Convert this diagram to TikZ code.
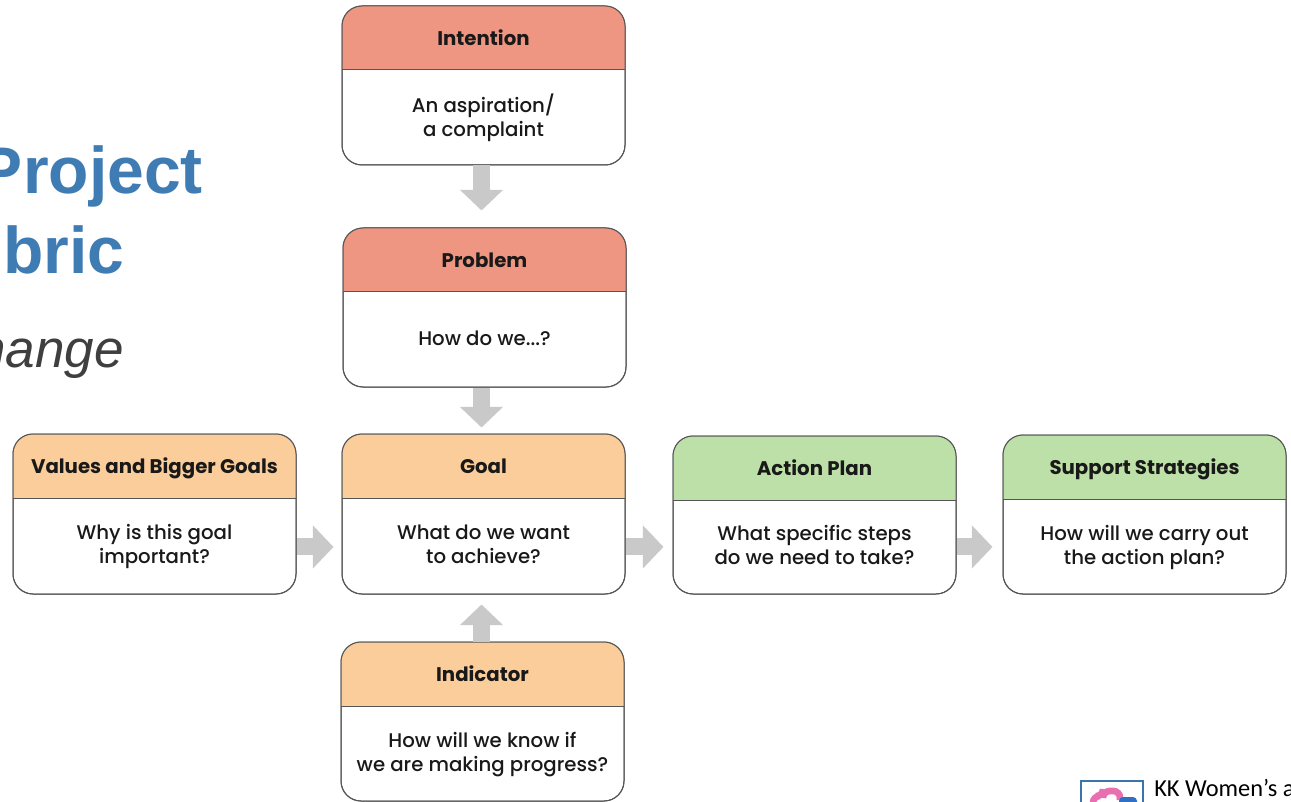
\documentclass[tikz,border=0pt]{standalone}
\usepackage{fontspec}
\setmainfont{Poppins}
\newfontfamily\bodyfont{Poppins Medium}
\newfontfamily\titlefont{Liberation Sans}
\newfontfamily\logofont{Carlito}
\usetikzlibrary{arrows.meta}
\definecolor{redhead}{HTML}{EE9682}
\definecolor{orangehead}{HTML}{FACD9A}
\definecolor{greenhead}{HTML}{BDE0A8}
\definecolor{titleblue}{HTML}{3F7CB4}
\definecolor{subgrey}{HTML}{3F3F3F}
\definecolor{arrowgrey}{HTML}{C9C9C9}
\definecolor{boxline}{HTML}{555555}
\definecolor{logoblue}{HTML}{3A74A8}
\definecolor{logopink}{HTML}{E86FB0}
\definecolor{logoinner}{HTML}{2F6FC4}
\tikzset{
  outerbox/.style={draw=boxline,line width=0.75pt,fill=white,rounded corners=15pt,inner sep=0pt},
  headtext/.style={font=\fontsize{14.8pt}{18pt}\selectfont\bfseries,text=black!90,inner sep=0pt},
  bodytext/.style={font=\bodyfont\fontsize{14.8pt}{18pt}\selectfont,text=black!90,align=center,inner sep=0pt},
  flowarrow/.style={draw=arrowgrey,line width=12.75pt,-{Triangle[width=31.5pt,length=15.5pt,fill=arrowgrey]}},
  maintitle/.style={font=\titlefont\bfseries\fontsize{49.5pt}{50pt}\selectfont,text=titleblue,inner sep=0pt},
  subtitle/.style={font=\titlefont\itshape\fontsize{39.8pt}{42pt}\selectfont,text=subgrey,inner sep=0pt},
  logotext/.style={font=\logofont\fontsize{18.3pt}{20pt}\selectfont,text=black,inner sep=0pt}
}
% name, x1, y1, yh, x2, y2, colour, head, body
\newcommand{\flowbox}[9]{%
  \node[outerbox,minimum width={(#5-#2)*0.75pt},minimum height={(#6-#3)*0.75pt}] (#1) at ({(#2+#5)/2},{(#3+#6)/2}) {};
  \begin{scope}
    \clip[rounded corners=15pt] (#2,#3) rectangle (#5,#6);
    \fill[#7] (#2,#3) rectangle (#5,#4);
    \draw[boxline,line width=0.75pt] (#2,#4) -- (#5,#4);
  \end{scope}
  \draw[boxline,line width=0.75pt,rounded corners=15pt] (#2,#3) rectangle (#5,#6);
  \node[headtext,anchor=base] (#1head) at ({(#2+#5)/2},{(#3+#4)/2+7.3}) {#8};
  \node[bodytext,anchor=center,execute at begin node=\strut,execute at end node=\strut] (#1body) at ({(#2+#5)/2},{(#4+#6)/2+1.6}) {#9};
}
\begin{document}
\begin{tikzpicture}[x=0.75pt,y=-0.75pt]
\useasboundingbox (0,0) rectangle (1291,802);
\clip (0,0) rectangle (1291,802);
\fill[white] (0,0) rectangle (1291,802);
% title
\node[maintitle,anchor=base east] (t1) at (203,194) {Project};
\node[maintitle,anchor=base east] (t2) at (124.5,273) {bric};
\node[subtitle,anchor=base east] (t3) at (124,367) {hange};
% boxes
\flowbox{intention}{342}{6}{69.5}{625}{165}{redhead}{Intention}{An aspiration/\\a complaint}
\flowbox{problem}{343}{228}{291.5}{626}{387}{redhead}{Problem}{How do we...?}
\flowbox{goal}{342}{434}{498}{625}{594}{orangehead}{Goal}{What do we want\\to achieve?}
\flowbox{values}{13}{434}{498}{296}{594}{orangehead}{Values and Bigger Goals}{Why is this goal\\important?}
\flowbox{action}{673}{436}{500}{956}{594}{greenhead}{Action Plan}{What specific steps\\do we need to take?}
\flowbox{support}{1003}{435}{499}{1286}{594}{greenhead}{Support Strategies}{How will we carry out\\the action plan?}
\flowbox{indicator}{341}{642}{706.5}{624}{801}{orangehead}{Indicator}{How will we know if\\we are making progress?}
% connectors
\coordinate (vaxis) at ([xshift=-1.5pt]intention.south);
\coordinate (haxis) at ([yshift=0.5pt]goal.west |- goalbody);
\draw[flowarrow,shorten >=12.75pt] (vaxis |- intention.south) -- (vaxis |- problem.north);
\draw[flowarrow,shorten >=4.5pt] (vaxis |- problem.south) -- (vaxis |- goal.north);
\draw[flowarrow,shorten >=7.5pt] (vaxis |- indicator.north) -- (vaxis |- goal.south);
\draw[flowarrow,shorten >=6pt] (values.east |- haxis) -- (goal.west |- haxis);
\draw[flowarrow,shorten >=6.75pt] (goal.east |- haxis) -- (action.west |- haxis);
\draw[flowarrow,shorten >=7.5pt] (action.east |- haxis) -- (support.west |- haxis);
% logo
\draw[logoblue,line width=1.8pt] (1081,803) -- (1081,781) -- (1143,781) -- (1143,803);
\draw[logopink,line width=5pt,rounded corners=5pt] (1093,806) -- (1093,796) -- (1103,796) -- (1103,791) -- (1120,791) -- (1120,800);
\fill[logoinner,rounded corners=3pt] (1119,797) rectangle (1137,808);
\node[logotext,anchor=base west] (logo) at (1154,796) {KK Women’s and};
\end{tikzpicture}
\end{document}
